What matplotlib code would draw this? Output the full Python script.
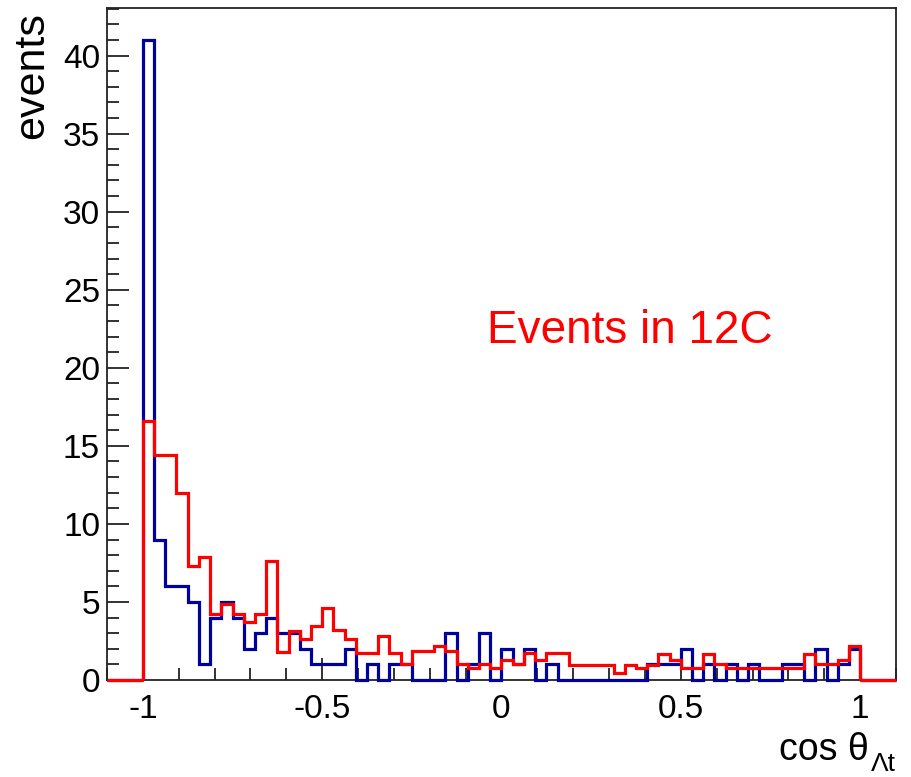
import numpy as np
import matplotlib
matplotlib.use("Agg")
import matplotlib.pyplot as plt
from matplotlib.ticker import MultipleLocator

plt.rcParams["axes.unicode_minus"] = False

# cos(theta) histogram: 64 bins over [-1, 1]
x_min, x_max, n_bins = -1.0, 1.0, 64

counts_blue = [
    41, 9, 6, 6, 5, 1, 4, 5, 4, 2, 3, 4, 3, 3, 2, 1,
    1, 1, 2, 0, 1, 0, 1, 1, 0, 0, 0, 3, 0, 1, 3, 0,
    2, 1, 2, 0, 1, 0, 0, 0, 0, 0, 0, 0, 0, 1, 1, 1,
    2, 0, 1, 0, 1, 0, 1, 0, 0, 1, 1, 0, 2, 0, 1, 2,
]
counts_red = [
    16.6, 14.4, 14.4, 12.0, 7.3, 7.9, 4.25, 4.9, 4.25, 3.7, 4.25, 7.6, 1.8, 3.15, 2.6, 3.45,
    4.6, 3.2, 2.6, 1.7, 1.7, 2.8, 1.7, 1.0, 1.85, 1.85, 2.2, 1.85, 1.0, 0.75, 1.0, 0.8,
    1.3, 1.05, 1.7, 1.3, 1.7, 1.7, 0.95, 0.95, 0.95, 0.95, 0.45, 0.95, 0.75, 0.95, 1.65, 1.3,
    0.75, 0.75, 1.65, 1.0, 0.75, 0.75, 0.75, 0.75, 0.75, 0.75, 0.75, 1.65, 1.0, 1.0, 1.3, 2.2,
]
x_ticks = [-1, -0.5, 0, 0.5, 1]
x_tick_labels = ["-1", "-0.5", "0", "0.5", "1"]
y_ticks = [0, 5, 10, 15, 20, 25, 30, 35, 40]

edges = np.linspace(x_min, x_max, n_bins + 1)

font = ["Liberation Sans", "DejaVu Sans"]

fig = plt.figure(figsize=(9.12, 7.77), dpi=100)
ax = fig.add_axes([107 / 912, 1 - 680 / 777, (896 - 107) / 912, (680 - 8) / 777])

xlim = (-1.1, 1.1)
ylim = (0, max(counts_blue) * 1.05)
ax.set_xlim(*xlim)
ax.set_ylim(*ylim)

blue = "#00009c"
red = "#ff0000"
lw = 2.3

ax.stairs(counts_blue, edges, color=blue, lw=lw, baseline=0, zorder=3, clip_on=False)
ax.hlines(0, xlim[0], x_min, color=blue, lw=lw, zorder=3, clip_on=False)
ax.hlines(0, x_max, xlim[1], color=blue, lw=lw, zorder=3, clip_on=False)

ax.stairs(counts_red, edges, color=red, lw=lw, baseline=0, zorder=4, clip_on=False)
ax.hlines(0, xlim[0], x_min, color=red, lw=lw, zorder=4, clip_on=False)
ax.hlines(0, x_max, xlim[1], color=red, lw=lw, zorder=4, clip_on=False)

for s in ax.spines.values():
    s.set_linewidth(1.3)
    s.set_color("#222222")

ax.set_xticks(x_ticks)
ax.set_xticklabels(x_tick_labels)
ax.set_yticks(y_ticks)
ax.xaxis.set_minor_locator(MultipleLocator(0.1))
ax.yaxis.set_minor_locator(MultipleLocator(1))
ax.tick_params(which="both", direction="in", top=False, right=False, width=1.3, color="#222222")
ax.tick_params(which="major", length=16)
ax.tick_params(which="minor", length=8.5)
ax.tick_params(axis="x", which="major", pad=10)
ax.tick_params(axis="y", which="major", pad=5)
for lab in ax.get_xticklabels() + ax.get_yticklabels():
    lab.set_fontfamily(font)
    lab.set_fontsize(24)

fig.text(32 / 912, 1 - 12 / 777, "events", rotation=90, ha="center", va="top",
         fontsize=31, family=font)

fig.text(869 / 912, 1 - 760 / 777, "cos θ", ha="right", va="baseline",
         fontsize=27, family=font)
fig.text(871 / 912, 1 - 771 / 777, "Λt", ha="left", va="baseline",
         fontsize=19, family=font)

ax.text(487 / 912, 1 - 343 / 777, "Events in 12C", transform=fig.transFigure,
        ha="left", va="baseline", fontsize=33, color=red, family=font)

fig.savefig("out.png", dpi=100)
